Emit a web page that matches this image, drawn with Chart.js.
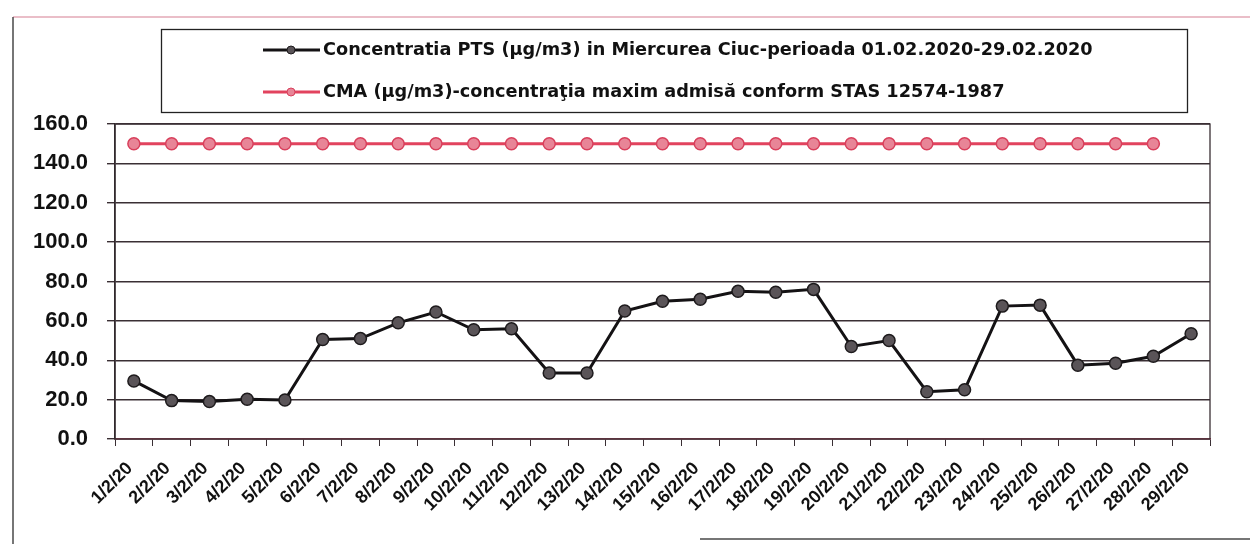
<!DOCTYPE html>
<html>
<head>
<meta charset="utf-8">
<script src="https://cdn.jsdelivr.net/npm/chart.js@4.4.1/dist/chart.umd.min.js"></script>
<style>
  body { margin: 0; background: #fff; }
  #wrap { width: 1250px; height: 544px; position: relative; }
</style>
</head>
<body>
<div id="wrap"><canvas id="ptsChart"></canvas></div>
<script>
// zile februarie 2020
const days = [
	'1/2/20', '2/2/20', '3/2/20', '4/2/20', '5/2/20', '6/2/20', '7/2/20',
	'8/2/20', '9/2/20', '10/2/20', '11/2/20', '12/2/20', '13/2/20', '14/2/20',
	'15/2/20', '16/2/20', '17/2/20', '18/2/20', '19/2/20', '20/2/20', '21/2/20',
	'22/2/20', '23/2/20', '24/2/20', '25/2/20', '26/2/20', '27/2/20', '28/2/20',
	'29/2/20',
];

// concentratia PTS masurata (µg/m3)
const ptsValues = [
	29.5, 19.5, 19, 20.2, 19.8, 50.5, 51, 59, 64.5, 55.5, 56, 33.5, 33.5, 65,
	70, 71, 75, 74.5, 76, 47, 50, 24, 25, 67.5, 68, 37.5, 38.5, 42, 53.5,
];

// CMA - doar pana la 28/2
const cmaValues = [
	150, 150, 150, 150, 150, 150, 150, 150, 150, 150, 150, 150, 150, 150,
	150, 150, 150, 150, 150, 150, 150, 150, 150, 150, 150, 150, 150, 150,
	null,
];

const yTicks = [0, 20, 40, 60, 80, 100, 120, 140, 160];

const seriesNames = [
	'Concentratia PTS (µg/m3) in Miercurea Ciuc-perioada 01.02.2020-29.02.2020',
	'CMA (µg/m3)-concentraţia maxim admisă conform STAS 12574-1987',
];

const FONT = "'Liberation Sans', Arial, sans-serif";
const LEGEND_FONT = "'DejaVu Sans', Verdana, sans-serif";
const gridColor = '#3a2f34';

// chenarul graficului + legenda in caseta
const framePlugin = {
	id: 'framePlugin',
	afterDraw(chart) {
		const ctx = chart.ctx;
		const { left, top, right, bottom } = chart.chartArea;
		ctx.save();

		// chenar zona de plotare
		ctx.strokeStyle = gridColor;
		ctx.lineWidth = 1.3;
		ctx.strokeRect(left, top, right - left, bottom - top);

		// chenar exterior (scanat)
		ctx.strokeStyle = '#e3a9b6';
		ctx.lineWidth = 1.5;
		ctx.beginPath();
		ctx.moveTo(13, 17);
		ctx.lineTo(1250, 17);
		ctx.stroke();
		ctx.strokeStyle = '#4a4a4a';
		ctx.beginPath();
		ctx.moveTo(13, 17);
		ctx.lineTo(13, 544);
		ctx.moveTo(700, 539);
		ctx.lineTo(1250, 539);
		ctx.stroke();

		// legenda
		ctx.strokeStyle = '#222';
		ctx.lineWidth = 1.3;
		ctx.strokeRect(161.5, 29.5, 1026, 83);

		const rows = [50, 92];
		chart.data.datasets.forEach((ds, i) => {
			const y = rows[i];
			ctx.strokeStyle = ds.borderColor;
			ctx.lineWidth = 3;
			ctx.beginPath();
			ctx.moveTo(263, y);
			ctx.lineTo(320, y);
			ctx.stroke();
			ctx.fillStyle = ds.pointBackgroundColor;
			ctx.strokeStyle = ds.pointBorderColor;
			ctx.lineWidth = 1;
			ctx.beginPath();
			ctx.arc(291, y, 4, 0, Math.PI * 2);
			ctx.fill();
			ctx.stroke();

			ctx.fillStyle = '#111';
			ctx.font = 'bold 17.7px ' + LEGEND_FONT;
			ctx.textBaseline = 'middle';
			ctx.textAlign = 'left';
			ctx.fillText(ds.label, 323, y);
		});
		ctx.restore();
	},
};

const ctx = document.getElementById('ptsChart').getContext('2d');

new Chart(ctx, {
	type: 'line',
	data: {
		labels: days,
		datasets: [
			{
				label: seriesNames[0],
				data: ptsValues,
				borderColor: '#141214',
				borderWidth: 3,
				pointRadius: 6,
				pointBackgroundColor: '#5a5458',
				pointBorderColor: '#1e1b1d',
				pointBorderWidth: 1.5,
				tension: 0,
			},
			{
				label: seriesNames[1],
				data: cmaValues,
				borderColor: '#e2435e',
				borderWidth: 3,
				pointRadius: 6,
				pointBackgroundColor: '#e88597',
				pointBorderColor: '#d8405c',
				pointBorderWidth: 1.5,
				tension: 0,
				spanGaps: false,
			},
		],
	},
	options: {
		responsive: true,
		maintainAspectRatio: false,
		animation: false,
		layout: {
			padding: { top: 124, left: 20, right: 40, bottom: 0 },
		},
		plugins: {
			legend: { display: false },
			tooltip: { enabled: false },
		},
		scales: {
			x: {
				offset: true,
				grid: {
					offset: true,
					drawOnChartArea: false,
					drawTicks: true,
					tickLength: 7,
					color: gridColor,
				},
				border: { color: '#9c3d55', width: 1.5 },
				ticks: {
					minRotation: 45,
					maxRotation: 45,
					autoSkip: false,
					padding: 12,
					labelOffset: -4,
					color: '#111',
					font: { family: FONT, size: 18, weight: 'bold' },
				},
				afterFit(scale) {
					scale.height = 105;
				},
			},
			y: {
				min: yTicks[0],
				max: yTicks[yTicks.length - 1],
				afterBuildTicks(scale) {
					scale.ticks = yTicks.map((v) => ({ value: v }));
				},
				grid: {
					color: gridColor,
					lineWidth: 1.4,
					tickLength: 8,
				},
				border: { color: '#222', width: 1.5 },
				ticks: {
					padding: 19,
					color: '#111',
					font: { family: FONT, size: 22, weight: 'bold' },
					callback: (v) => Number(v).toFixed(1),
				},
				afterFit(scale) {
					scale.width = 95;
				},
			},
		},
	},
	plugins: [framePlugin],
});
</script>
</body>
</html>
